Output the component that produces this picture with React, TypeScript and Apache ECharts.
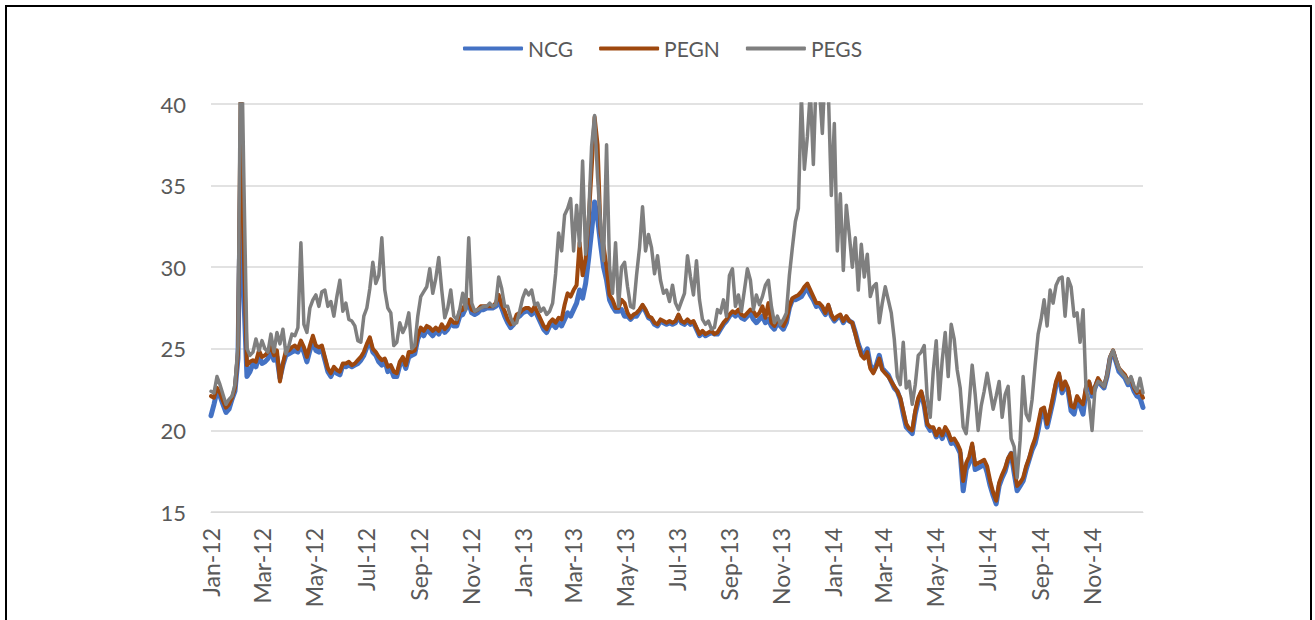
import React, { useEffect, useRef } from "react";
import * as echarts from "echarts";

// Sampling: evenly spaced observations from 1 Jan 2012 to 31 Dec 2014
const START_DATE = "2012-01-01";
const END_DATE = "2014-12-31";

const SERIES_NAMES = ["NCG", "PEGN", "PEGS"];

const NCG = [
  20.9, 21.6, 22.4, 22.1, 21.6, 21.1, 21.3, 21.9, 22.4, 24.4,
  37.0, 28.0, 23.3, 23.6, 24.1, 23.9, 24.6, 24.1, 24.2, 24.4,
  24.9, 24.3, 24.5, 23.2, 24.0, 24.6, 24.7, 24.8, 24.9, 24.8,
  25.2, 24.8, 24.2, 24.9, 25.5, 24.9, 24.8, 25.0, 24.3, 23.6,
  23.3, 23.7, 23.5, 23.4, 24.0, 23.9, 24.0, 23.9, 24.0, 24.1,
  24.3, 24.6, 25.1, 25.5, 24.8, 24.6, 24.2, 24.0, 24.3, 23.6,
  23.8, 23.3, 23.3, 24.0, 24.3, 23.8, 24.5, 24.6, 24.7, 25.6,
  26.0, 25.8, 26.2, 26.0, 25.8, 26.1, 25.9, 26.3, 26.0, 26.2,
  26.6, 26.4, 26.4, 27.0, 27.1, 27.5, 27.8, 27.2, 27.1, 27.2,
  27.4, 27.4, 27.5, 27.5, 27.5, 27.6, 27.9, 27.5, 27.0, 26.6,
  26.3, 26.5, 26.9, 27.0, 27.2, 27.3, 27.3, 27.1, 27.4, 27.0,
  26.6, 26.2, 26.0, 26.4, 26.5, 26.3, 26.6, 26.4, 26.8, 27.2,
  27.0, 27.4, 27.8, 28.6, 28.1, 29.0, 30.5, 32.2, 34.0, 33.0,
  31.4, 30.0, 29.2, 28.0, 27.6, 27.3, 27.3, 27.4, 27.0, 27.0,
  26.8, 27.0, 27.0, 27.3, 27.6, 27.3, 26.9, 26.8, 26.5, 26.4,
  26.7, 26.6, 26.5, 26.6, 26.5, 26.6, 27.0, 26.6, 26.5, 26.7,
  26.5, 26.6, 26.2, 25.8, 26.0, 25.8, 25.9, 26.0, 25.9, 25.9,
  26.2, 26.5, 26.7, 27.0, 27.2, 27.0, 27.2, 26.9, 26.8, 27.0,
  27.2, 26.8, 26.6, 26.8, 27.0, 26.6, 26.8, 26.4, 26.2, 26.6,
  26.4, 26.2, 26.6, 27.5, 28.0, 28.0, 28.1, 28.2, 28.5, 28.7,
  28.3, 28.0, 27.6, 27.7, 27.4, 27.1, 27.6, 27.0, 26.7, 26.9,
  27.0, 26.6, 26.9, 26.7, 26.6, 26.0, 25.3, 24.8, 24.6, 25.0,
  24.0, 23.6, 24.0, 24.6, 23.8, 23.6, 23.4, 23.0, 22.6, 22.4,
  21.9, 21.0, 20.2, 20.0, 19.8, 21.0, 21.8, 22.3, 21.5, 20.3,
  20.0, 20.1, 19.6, 19.9, 19.5, 20.0, 19.7, 19.2, 19.3, 19.0,
  18.6, 16.3, 17.6, 18.0, 19.0, 17.6, 17.7, 17.8, 18.0, 17.4,
  16.6, 16.0, 15.5, 16.6, 17.1, 17.5, 18.2, 18.6, 17.4, 16.3,
  16.6, 16.9, 17.6, 18.2, 18.8, 19.2, 20.0, 21.0, 21.2, 20.2,
  21.0, 21.8, 22.8, 23.3, 22.3, 22.8, 22.4, 21.2, 21.0, 21.9,
  21.5, 21.0, 22.5, 22.9, 22.1, 22.6, 23.1, 22.8, 22.6, 23.3,
  24.4, 24.8, 24.2, 23.6, 23.4, 23.2, 22.8, 22.9, 22.4, 22.1,
  22.0, 21.4,
];

const PEGN = [
  22.1, 22.0, 22.6, 22.3, 21.8, 21.4, 21.6, 22.0, 22.6, 24.8,
  42.0, 30.5, 24.0, 24.2, 24.3, 24.2, 24.9, 24.5, 24.6, 24.8,
  25.1, 24.6, 24.9, 23.0, 24.1, 24.9, 24.9, 25.1, 25.2, 25.0,
  25.5, 25.1, 24.5, 25.2, 25.8, 25.2, 25.1, 25.2, 24.5, 23.8,
  23.5, 23.9, 23.7, 23.6, 24.1, 24.1, 24.2, 24.0, 24.1, 24.3,
  24.5, 24.8, 25.3, 25.7, 25.0, 24.8, 24.5, 24.3, 24.4, 23.9,
  24.0, 23.6, 23.5, 24.2, 24.5, 24.0, 24.8, 24.8, 24.9, 25.8,
  26.3, 26.1, 26.4, 26.3, 26.1, 26.3, 26.1, 26.5, 26.2, 26.4,
  26.8, 26.6, 26.6, 27.3, 27.4, 27.8, 28.0, 27.4, 27.3, 27.4,
  27.6, 27.6, 27.6, 27.6, 27.6, 27.8, 28.3, 27.7, 27.3, 26.8,
  26.5, 26.6, 27.1, 27.2, 27.4, 27.5, 27.5, 27.3, 27.6, 27.2,
  26.8, 26.4, 26.2, 26.6, 26.8, 26.6, 26.9, 26.8, 27.7, 28.4,
  28.2, 28.6, 28.9, 31.5, 29.5, 30.5, 32.8, 36.0, 39.2, 37.5,
  32.1, 31.3, 30.0, 28.3, 28.0, 27.5, 27.5, 28.0, 27.8, 27.2,
  26.9, 27.1, 27.2, 27.4, 27.7, 27.4, 27.0, 26.9, 26.6, 26.5,
  26.8, 26.7, 26.6, 26.7, 26.6, 26.7, 27.1, 26.7, 26.6, 26.8,
  26.6, 26.7, 26.3, 25.9, 26.1, 25.9, 26.0, 26.1, 25.9, 26.0,
  26.3, 26.6, 26.8, 27.1, 27.3, 27.2, 27.4, 27.1, 27.0, 27.2,
  27.4, 27.3, 27.0, 27.2, 27.6, 26.9, 27.8, 26.6, 26.4, 26.8,
  26.6, 26.4, 26.8, 27.6, 28.1, 28.2, 28.3, 28.5, 28.8, 29.0,
  28.6, 28.2, 27.8, 27.8, 27.6, 27.2, 27.7, 27.1, 26.8, 27.0,
  27.1, 26.7, 27.0, 26.7, 26.6, 25.9, 25.2, 24.6, 24.4, 24.8,
  23.8, 23.5, 23.9, 24.4, 23.7, 23.5, 23.3, 23.0, 22.7, 22.4,
  22.0, 21.2, 20.4, 20.1, 20.0, 21.2, 22.0, 22.4, 21.6, 20.4,
  20.2, 20.2, 19.7, 20.1, 19.7, 20.2, 19.9, 19.4, 19.5, 19.2,
  18.8, 16.9, 18.0, 18.4, 19.2, 17.9, 18.0, 18.1, 18.2, 17.8,
  16.9, 16.2, 15.7, 16.8, 17.3, 17.7, 18.3, 18.6, 17.7, 16.6,
  16.8, 17.1, 17.8, 18.3, 19.0, 19.5, 20.4, 21.3, 21.4, 20.4,
  21.2, 22.1, 23.0, 23.5, 22.5, 23.0, 22.6, 21.5, 21.4, 22.1,
  21.8, 21.6, 22.7, 23.0, 22.3, 22.7, 23.2, 22.9, 22.7, 23.4,
  24.5, 24.9, 24.3, 23.8, 23.6, 23.4, 23.0, 23.2, 22.6, 22.3,
  22.4, 22.0,
];

const PEGS = [
  22.4, 22.3, 23.3, 22.8, 22.2, 21.6, 21.9, 22.1, 22.8, 25.2,
  46.0, 35.0, 25.0, 24.6, 24.8, 25.6, 24.9, 25.5, 25.0, 24.8,
  25.9, 24.8, 26.0, 25.3, 26.2, 24.7, 25.2, 25.9, 25.8, 26.3,
  31.5, 26.5, 26.0, 27.5, 28.0, 28.3, 27.6, 28.5, 28.6, 27.6,
  27.9, 27.0, 28.2, 29.2, 27.3, 27.8, 26.8, 26.7, 26.4, 25.5,
  25.4, 27.0, 27.5, 28.7, 30.3, 29.0, 29.5, 31.8, 28.6, 27.5,
  27.2, 25.2, 25.4, 26.6, 26.0, 26.4, 27.2, 25.0, 25.2, 27.0,
  28.2, 28.5, 28.8, 29.9, 28.4, 29.3, 30.6, 28.6, 26.9, 27.5,
  28.6, 27.0, 26.8, 27.4, 28.4, 27.4, 31.8, 27.8, 27.3, 27.4,
  27.5, 27.6, 27.6, 27.8, 27.6, 27.7, 29.4, 28.7, 27.6, 27.6,
  26.9, 26.5, 26.6, 27.3, 28.1, 28.6, 28.3, 28.6, 27.7, 27.8,
  27.3, 27.5, 27.1, 27.3, 27.8, 29.6, 32.1, 31.0, 33.2, 33.6,
  34.2, 31.0, 33.8, 31.3, 36.5, 30.8, 33.0, 37.4, 39.3, 35.5,
  32.7, 30.4, 37.5, 30.0, 28.4, 31.5, 27.6, 30.0, 30.3, 28.8,
  27.6, 27.5, 29.5, 31.2, 33.7, 31.0, 32.0, 31.2, 29.6, 30.7,
  29.2, 28.4, 28.6, 27.9, 28.9, 27.8, 27.4, 27.9, 28.4, 30.7,
  29.4, 28.3, 30.4, 28.0, 26.8, 26.5, 26.7, 26.2, 26.3, 27.4,
  27.2, 28.0, 27.0, 29.5, 29.9, 27.6, 28.3, 27.3, 28.6, 29.9,
  29.2, 27.4, 28.3, 27.7, 28.2, 28.9, 29.2, 27.6, 26.6, 27.0,
  26.5, 26.8, 27.2, 29.5, 31.2, 32.8, 33.6, 40.5, 36.0, 38.0,
  40.8, 36.3, 42.0, 41.0, 38.2, 42.5, 40.8, 34.4, 38.8, 31.0,
  34.5, 29.8, 33.8, 32.0, 30.0, 31.8, 28.6, 31.4, 29.4, 30.8,
  28.2, 28.8, 29.0, 26.6, 27.8, 28.8, 28.0, 27.2, 25.6, 23.3,
  22.8, 25.4, 22.6, 23.0, 21.6, 22.8, 24.6, 24.8, 25.2, 22.0,
  20.8, 23.6, 25.5, 21.9, 24.3, 26.0, 23.3, 26.5, 25.6, 23.7,
  22.6, 20.2, 19.8, 21.7, 24.0, 22.2, 20.0, 21.5, 22.4, 23.5,
  22.4, 21.3, 22.1, 23.0, 20.8, 22.2, 22.7, 19.5, 19.0, 17.1,
  19.4, 23.3, 21.0, 20.6, 21.9, 24.0, 25.9, 26.8, 28.0, 26.4,
  28.6, 27.8, 28.9, 29.3, 29.4, 27.0, 29.3, 28.8, 27.0, 27.2,
  25.4, 27.4, 22.5, 21.8, 20.0, 22.6, 23.0, 22.9, 22.7, 23.4,
  24.5, 24.9, 24.3, 23.8, 23.5, 23.3, 22.9, 23.3, 22.7, 22.4,
  23.2, 22.3,
];

const TICK_LABELS = [
  "Jan-12", "Mar-12", "May-12", "Jul-12", "Sep-12", "Nov-12",
  "Jan-13", "Mar-13", "May-13", "Jul-13", "Sep-13", "Nov-13",
  "Jan-14", "Mar-14", "May-14", "Jul-14", "Sep-14", "Nov-14",
];

const Y_MIN = 15;
const Y_MAX = 40;
const Y_STEP = 5;

const COLORS = ["#4472C4", "#9E480E", "#7F7F7F"];
const WIDTHS = [5, 4, 3.5];

const MONTHS = ["Jan", "Feb", "Mar", "Apr", "May", "Jun", "Jul", "Aug", "Sep", "Oct", "Nov", "Dec"];
const DAY_MS = 86400000;

function dayOf(dateStr: string) {
  return (Date.parse(dateStr) - Date.parse(START_DATE)) / DAY_MS;
}

function tickDay(label: string) {
  const [m, y] = label.split("-");
  const t = Date.UTC(2000 + Number(y), MONTHS.indexOf(m), 1);
  return (t - Date.parse(START_DATE)) / DAY_MS;
}

export default function App() {
  const ref = useRef<HTMLDivElement>(null);

  useEffect(() => {
    if (!ref.current) return;
    const chart = echarts.init(ref.current, undefined, { renderer: "svg" });
    const totalDays = dayOf(END_DATE);
    const n = NCG.length;
    const xs = NCG.map((_, i) => (i * totalDays) / (n - 1));
    const tickDays = TICK_LABELS.map(tickDay);
    const font = "Lato, 'Noto Sans', sans-serif";
    const all = [NCG, PEGN, PEGS];

    chart.setOption({
      animation: false,
      backgroundColor: "#ffffff",
      textStyle: { fontFamily: font },
      graphic: [
        {
          type: "rect",
          shape: { x: 6, y: 6, width: 1305, height: 700 },
          style: { fill: "none", stroke: "#000000", lineWidth: 2 },
          silent: true,
          z: 100,
        },
      ],
      legend: {
        top: 33,
        left: 458,
        itemWidth: 60,
        itemHeight: 4,
        itemGap: 26,
        icon: "roundRect",
        textStyle: { color: "#595959", fontSize: 21, fontFamily: font, padding: [0, 0, 0, 0] },
        data: SERIES_NAMES,
      },
      grid: { left: 211, right: 172, top: 104, bottom: 108, containLabel: false },
      xAxis: {
        type: "value",
        min: 0,
        max: totalDays,
        axisLine: { show: true, lineStyle: { color: "#D9D9D9", width: 1 } },
        axisTick: { show: false },
        splitLine: { show: false },
        axisLabel: {
          customValues: tickDays,
          rotate: 90,
          margin: 16,
          color: "#595959",
          fontSize: 23,
          fontFamily: font,
          formatter: (v: number) => {
            let best = 0;
            tickDays.forEach((d, i) => {
              if (Math.abs(d - v) < Math.abs(tickDays[best] - v)) best = i;
            });
            return TICK_LABELS[best];
          },
        },
      },
      yAxis: {
        type: "value",
        min: Y_MIN,
        max: Y_MAX,
        interval: Y_STEP,
        axisLine: { show: false },
        axisTick: { show: false },
        splitLine: { lineStyle: { color: "#D9D9D9", width: 1.5 } },
        axisLabel: { color: "#595959", fontSize: 22, margin: 25, fontFamily: font },
      },
      series: SERIES_NAMES.map((name, k) => ({
        name,
        type: "line",
        showSymbol: false,
        symbol: "none",
        clip: true,
        data: all[k].map((v, i) => [xs[i], v]),
        itemStyle: { color: COLORS[k] },
        lineStyle: { color: COLORS[k], width: WIDTHS[k], cap: "round", join: "round" },
        z: 2 + k,
      })),
    });

    return () => chart.dispose();
  }, []);

  return (
    <div
      ref={ref}
      style={{ position: "absolute", left: 0, top: 0, width: 1315, height: 620, background: "#fff" }}
    />
  );
}
